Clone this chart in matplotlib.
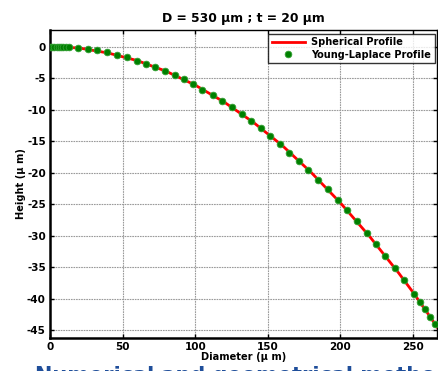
import matplotlib
matplotlib.use("Agg")
import matplotlib.pyplot as plt

# Young-Laplace profile markers
yl_x = [0, 1.5, 3, 4.5, 6, 7.5, 9.2, 11, 13.3, 19.1, 26, 32.6, 39, 45.9, 52.8,
        59.7, 66.1, 72.5, 79.2, 85.8, 92, 98.7, 105, 112, 118.6, 125.1, 132,
        138.4, 145, 151.5, 158.4, 164.9, 171.4, 177.9, 184.8, 191.2, 198.1,
        204.8, 211.2, 218.1, 224.5, 231, 237.6, 243.8, 250.9, 254.8, 258.3,
        261.7, 265]
yl_y = [0.0, 0.0, 0.0, 0.0, 0.0, 0.0, -0.1, -0.1, -0.1, -0.2, -0.4, -0.6, -0.9,
        -1.3, -1.7, -2.2, -2.7, -3.2, -3.8, -4.5, -5.2, -6.0, -6.8, -7.7, -8.6,
        -9.6, -10.7, -11.8, -12.9, -14.1, -15.4, -16.8, -18.1, -19.5, -21.1,
        -22.6, -24.3, -26.0, -27.7, -29.5, -31.3, -33.2, -35.2, -37.1, -39.3,
        -40.6, -41.7, -42.9, -44.0]

# Spherical profile line
sp_x = [0, 20, 40, 60, 80, 100, 120, 140, 160, 180, 200, 220, 240, 250, 260, 268]
sp_y = [0.0, -0.2, -1.0, -2.2, -3.9, -6.1, -8.8, -12.0, -15.7, -20.0, -24.8,
        -30.1, -35.9, -39.0, -42.3, -45.0]

xticks = [0, 50, 100, 150, 200, 250]
yticks = [0, -5, -10, -15, -20, -25, -30, -35, -40, -45]

fig = plt.figure(figsize=(4.39, 3.71), dpi=100)
ax = fig.add_axes([0.1139, 0.0898, 0.8809, 0.8293])

ax.plot(sp_x, sp_y, color='#ff0000', lw=2.0, label='Spherical Profile', zorder=3)
ax.plot(yl_x, yl_y, linestyle='none', marker='o', markersize=4.8,
        markerfacecolor='#008000', markeredgecolor='#33a033', markeredgewidth=0.6,
        label='Young-Laplace Profile', zorder=4)

ax.set_xlim(0, 266.3)
ax.set_ylim(-46.2, 2.65)
ax.set_xticks(xticks)
ax.set_yticks(yticks)
ax.set_xticklabels([str(v) for v in xticks], fontsize=7.5, fontweight='bold')
ax.set_yticklabels([str(v) for v in yticks], fontsize=7.5, fontweight='bold')
ax.tick_params(direction='in', length=3, width=1, top=True, right=True, pad=3)
ax.grid(True, color='#9a9a9a', linestyle=(0, (1.5, 0.8)), linewidth=0.8)
for s in ax.spines.values():
    s.set_linewidth(1.0)
ax.spines['left'].set_linewidth(1.8)
ax.spines['bottom'].set_linewidth(1.8)

ax.set_title('D = 530 \u03bcm ; t = 20 \u03bcm', fontsize=8.9, fontweight='bold', pad=6)
ax.set_xlabel('Diameter (\u03bc m)', fontsize=7.1, fontweight='bold', labelpad=0)
ax.set_ylabel('Height (\u03bc m)', fontsize=7.1, fontweight='bold', labelpad=1)

leg = ax.legend(loc='upper right', bbox_to_anchor=(0.9985, 0.992),
                prop={'weight': 'bold', 'size': 7}, frameon=True, fancybox=False,
                edgecolor='black', borderpad=0.35, labelspacing=0.25,
                handlelength=3.4, handletextpad=0.7, borderaxespad=0.15)
leg.get_frame().set_linewidth(1.0)

fig.text(0.08, 0.013, 'Numerical and geometrical method', color='#1f4e9a',
         fontsize=15, fontweight='bold', va='top', ha='left')

fig.savefig('out.png', dpi=100)
